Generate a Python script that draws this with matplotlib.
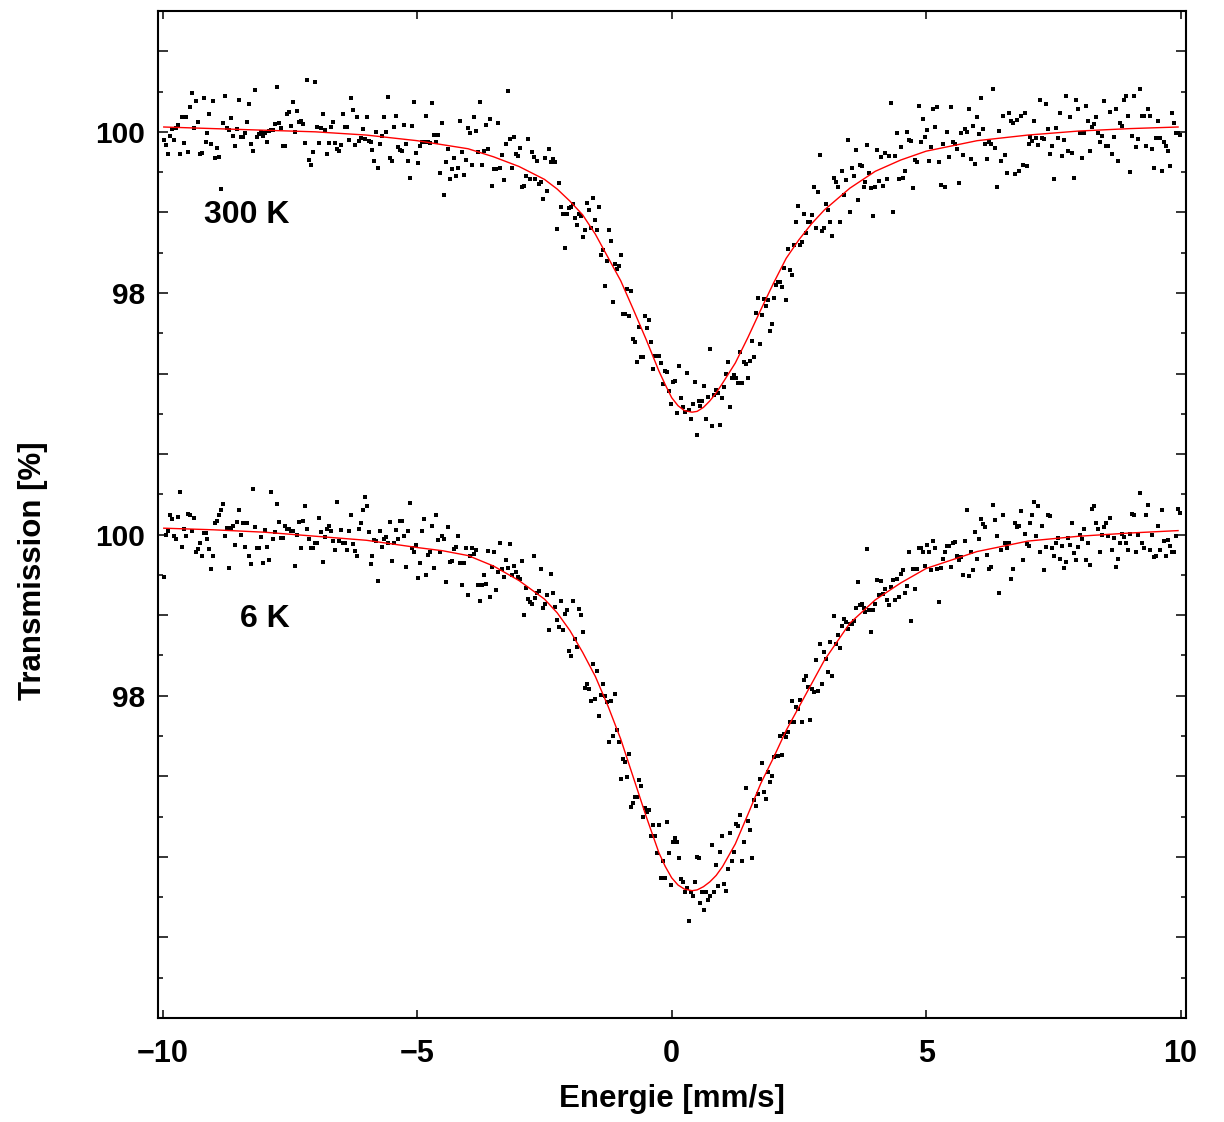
import numpy as np
import matplotlib
matplotlib.use("Agg")
import matplotlib.pyplot as plt
from matplotlib.ticker import MultipleLocator

# velocity range of the channels (mm/s)
v_first, v_last = -9.98, 9.98

# measured transmission (%), 300 K
t_300 = [
    99.90, 99.84, 99.72, 99.95, 100.04, 99.90, 100.05, 100.08, 99.72, 100.19, 99.86, 100.19, 99.75, 100.31,
    100.48, 100.05, 100.38, 100.12, 99.73, 99.74, 100.42, 99.87, 99.98, 100.22, 99.85, 100.38, 99.67, 99.80,
    99.69, 99.29, 100.11, 100.45, 100.05, 100.02, 100.17, 99.95, 99.82, 100.03, 100.40, 99.94, 99.93, 99.98,
    100.12, 100.35, 99.85, 99.76, 100.52, 99.94, 99.97, 100.00, 99.95, 99.98, 99.87, 100.01, 100.02, 100.02,
    100.10, 100.56, 100.11, 100.05, 99.82, 99.83,
    100.22, 100.25, 100.07, 100.37, 100.00, 100.26, 100.12, 100.14, 100.10, 99.86, 100.64, 99.65, 99.59, 99.75,
    100.62, 100.06, 99.86, 100.05, 100.22, 100.02, 99.73, 99.86, 100.06, 100.12, 99.86, 99.79, 99.76, 99.84,
    100.22, 100.06, 100.06, 99.90, 100.42, 100.27, 99.84, 100.18, 99.89, 99.92, 100.03, 99.91, 100.18, 99.89,
    99.88, 99.77, 99.64, 100.00, 99.55, 99.85, 99.95, 100.18, 100.00, 100.43, 99.67, 99.64, 100.06, 100.20,
    99.81, 99.78, 99.76, 100.09, 99.85, 99.64, 99.43, 100.07, 100.37, 99.74, 99.61,
    99.82, 99.88, 99.88, 100.20, 99.88, 99.86, 100.36, 99.96, 99.88, 99.96, 99.49, 100.11, 99.22, 99.62,
    99.79, 99.41, 99.54, 99.68, 99.45, 99.55, 100.14, 99.75, 99.46, 99.65, 100.05, 99.99, 99.59, 100.19,
    100.01, 99.75, 100.37, 99.59, 99.76, 100.08, 99.79, 100.16, 99.33, 99.54, 99.54, 100.11, 99.55, 99.71,
    99.40, 99.85, 100.51, 99.91, 99.55, 99.94, 99.73, 99.70, 99.80, 99.31, 99.33, 99.45, 99.91, 99.41,
    99.75, 99.69, 99.41, 99.64, 99.35, 99.38, 99.17, 99.68, 99.27, 99.79, 99.62, 99.66, 99.63, 98.79,
    99.37, 99.07, 98.98, 98.56, 98.98, 99.06, 99.07, 99.10, 98.93, 98.84, 98.98, 98.96, 98.70, 98.78,
    99.12, 99.03, 98.81, 99.18, 98.91, 98.78, 99.07, 98.47, 98.53, 98.09, 98.40, 98.78, 98.64, 97.89,
    98.36, 98.30, 98.33, 98.47, 97.74, 97.74, 98.05, 97.72, 98.03, 97.43, 97.39, 97.14, 97.58, 97.21,
    97.20, 97.72, 97.57, 97.66, 97.39, 97.06, 97.22, 97.22, 97.22, 97.13, 96.87, 97.03, 97.02, 96.78,
    96.62, 96.89, 96.91, 96.51, 97.09,
    96.70, 96.58, 96.52, 97.01, 96.55, 96.43, 96.62, 96.89, 96.24, 96.66, 96.60, 96.66, 96.84, 96.44,
    96.71, 97.30, 96.35, 96.73, 96.79, 96.76, 96.36, 96.70, 96.83, 97.00, 97.14, 96.59, 96.95, 96.98,
    96.95, 96.88, 97.27, 96.88, 97.14, 97.12, 96.95, 97.16, 97.40, 97.21, 97.75, 97.94, 97.37, 97.73,
    97.92, 97.84, 97.91, 97.53, 97.61, 97.94, 98.10, 98.14, 98.14, 98.07, 98.31, 97.91, 98.55, 98.28,
    98.22, 98.59, 98.88, 99.08, 98.60, 98.63, 98.98, 98.75, 98.88, 98.88, 98.97, 99.31, 98.81, 99.25,
    99.71, 98.77, 98.81, 99.10, 99.03, 98.88, 98.71, 99.43, 99.38, 99.32, 98.88, 99.52, 99.21, 99.40,
    99.90, 99.00, 99.55, 99.45, 99.77, 99.15, 99.59, 99.57, 99.32, 99.38, 99.84, 99.49, 99.30, 98.96,
    99.31, 99.77, 99.39, 99.69, 99.33, 99.74, 99.42, 99.70, 100.36, 99.00, 99.70, 99.99, 99.41, 99.81,
    99.43, 99.51, 100.00, 99.90, 99.89, 99.30, 99.65, 99.62, 100.32, 99.88, 100.16, 99.94, 100.02, 99.64,
    99.81, 100.28, 100.06, 100.31, 99.63,
    99.34, 99.85, 99.31, 100.00, 99.69, 100.31, 99.88, 99.85, 99.79, 99.37, 99.99, 99.71, 100.03, 100.00,
    100.28, 99.66, 100.07, 99.60, 100.19, 99.97, 100.42, 100.03, 99.85, 99.66, 99.88, 99.85, 100.53, 99.80,
    99.32, 100.01, 99.64, 100.20, 99.71, 99.49, 100.24, 100.14, 100.11, 99.48, 100.15, 99.52, 100.20, 99.59,
    100.24, 99.57, 99.85, 99.94, 99.89, 100.13, 99.92, 99.84, 100.40, 99.92, 99.91, 100.35, 100.03, 99.72,
    99.82, 99.42, 100.05, 99.92, 100.24, 99.70, 99.90, 100.45, 99.76, 100.19, 99.74, 99.43, 100.39, 100.28,
    99.99, 99.68, 99.99, 100.32, 100.14, 99.76, 100.06, 100.10, 100.18, 99.99, 99.88, 99.95, 100.38, 99.83,
    99.83, 100.25, 99.73, 99.94, 100.28, 99.64, 100.11, 100.07, 100.39, 100.45, 100.20, 99.50, 99.95, 100.45,
    99.81, 99.91, 100.53, 100.20, 100.20, 99.83, 100.28, 100.20, 99.79, 99.55, 99.92, 100.13, 99.92, 99.51,
    99.88, 99.82, 99.76, 99.57, 100.23, 100.11, 99.98, 99.99, 99.96,
]

# measured transmission (%), 6 K
t_6 = [
    99.47, 100.00, 100.05, 100.24, 100.19, 99.98, 99.94, 100.22, 100.53, 99.85, 100.07, 99.98, 100.26, 100.24,
    100.04, 100.21, 99.78, 99.82, 99.90, 99.74, 100.02, 100.02, 99.94, 99.82, 99.57, 99.73, 100.14, 100.17,
    100.24, 100.31, 100.38, 99.98, 100.08, 99.59, 100.08, 100.11, 99.87, 100.16, 100.30, 100.00, 100.15, 99.85,
    100.15, 99.74, 99.63, 100.57, 100.10, 99.84, 99.83, 99.97, 99.65, 100.06, 99.85, 99.69, 100.53, 99.94,
    100.03, 100.38, 100.16, 99.96, 99.96, 100.11, 100.07, 100.07, 100.04, 100.04, 99.61, 99.99, 100.16, 99.84,
    100.17, 100.35, 100.07, 99.94, 99.83, 99.83, 99.90, 99.90, 100.21, 100.03, 99.66, 99.97, 100.07, 100.11,
    100.05, 99.92, 99.81, 100.41, 99.92, 100.06, 99.90, 99.90, 99.81, 100.04, 100.24, 99.88, 99.80, 99.74,
    100.07, 100.14, 100.31, 100.47, 100.35, 100.03, 99.64, 99.73, 99.93, 99.92, 99.43, 100.05, 99.85, 99.94,
    99.97, 99.89, 100.16, 99.67, 99.90, 100.06, 99.95, 100.17, 100.17, 99.98, 99.60, 100.04, 100.39, 99.84,
    99.78, 99.87, 99.46,
    99.65, 100.04, 100.20, 99.50, 99.75, 99.79, 100.11, 99.59, 100.24, 99.93, 99.78, 99.98, 99.94, 99.41,
    100.09, 99.66, 99.67, 99.82, 99.85, 99.98, 99.65, 99.38, 99.65, 99.84, 99.25, 99.74, 99.84, 99.76,
    99.81, 99.37, 99.17, 99.37, 99.50, 99.39, 99.80, 99.23, 99.60, 99.78, 99.31, 99.53, 99.89, 99.57,
    99.48, 99.69, 99.59, 99.88, 99.50, 99.61, 99.54, 99.47, 99.45, 99.67, 99.00, 99.34, 99.20, 99.16,
    99.14, 99.74, 99.21, 99.27, 99.30, 99.57, 99.09, 99.14, 99.25, 98.81, 99.51, 99.27, 99.10, 98.94,
    98.85, 99.18, 98.81, 99.02, 99.06, 98.55, 98.49, 99.18, 98.71, 98.60, 99.08, 99.00, 98.79, 98.10,
    98.14, 98.08, 97.93, 98.40, 97.96, 98.31, 97.75, 98.01, 98.14, 98.00, 97.92, 97.42, 97.93, 97.50,
    98.02, 97.58, 97.42, 96.97, 97.21, 97.18, 96.99, 97.28, 96.62, 96.67, 96.74, 96.74, 96.95, 96.88,
    96.49, 96.61, 96.56, 96.58, 96.26, 96.40, 96.26, 96.05, 96.40, 95.74, 95.95, 95.74, 96.43, 96.05,
    95.65, 96.18, 96.23, 96.19, 95.98,
    95.73, 95.69, 95.56, 95.61, 95.21, 95.56, 95.52, 95.69, 96.00, 95.98, 95.43, 95.56, 95.34, 95.56,
    95.47, 95.52, 96.15, 95.56, 95.90, 95.64, 96.06, 96.26, 95.66, 95.58, 95.85, 96.30, 95.95, 96.06,
    96.41, 96.38, 96.52, 95.95, 96.18, 96.86, 96.44, 96.33, 95.98, 96.70, 96.63, 96.78, 96.97, 97.16,
    96.81, 96.72, 97.05, 96.93, 97.00, 97.24, 97.25, 97.25, 97.50, 97.27, 97.53, 97.49, 97.55, 97.67,
    97.93, 97.68, 97.86, 97.84, 97.95, 97.68, 98.20, 98.24, 98.11, 97.70, 98.08, 98.05, 98.45, 98.06,
    98.64, 98.15, 98.54, 98.46, 98.29, 98.67, 98.25, 98.99, 98.64, 98.76, 98.59, 98.86, 98.95, 98.91,
    98.83, 98.89, 98.89, 98.93, 99.09, 99.41, 99.13, 99.14, 99.09, 99.04, 99.82, 99.06, 98.79, 99.06,
    99.14, 99.44, 99.25, 99.43, 99.26, 99.32, 99.19, 99.13, 99.35, 99.44, 99.19, 99.45, 99.23, 99.51,
    99.56, 99.27, 99.36, 99.79, 98.93, 99.57, 99.33, 99.57, 99.83, 99.84, 99.78, 99.61, 99.87, 99.79,
    99.56, 99.92, 99.84, 99.57, 99.16,
    99.58, 99.70, 99.79, 99.86, 99.86, 99.60, 99.89, 99.91, 99.74, 99.68, 99.72, 99.50, 99.92, 100.30,
    99.49, 99.78, 99.56, 100.03, 99.70, 99.94, 100.20, 100.13, 100.10, 99.75, 99.57, 99.60, 100.37, 100.18,
    99.98, 99.27, 99.81, 100.24, 99.90, 99.83, 99.89, 99.45, 99.57, 100.14, 100.09, 100.11, 100.29, 99.69,
    100.01, 99.88, 99.86, 100.14, 100.24, 100.40, 99.98, 100.36, 99.79, 100.11, 99.56, 99.85, 100.24, 100.23,
    99.84, 99.74, 99.89, 99.96, 99.70, 99.86, 99.59, 99.66, 99.96, 99.87, 100.14, 99.77, 99.68, 99.85,
    99.99, 99.94, 100.07, 99.68, 99.90, 99.62, 100.32, 100.35, 100.14, 100.07, 99.79, 99.99, 100.10, 100.14,
    99.98, 100.21, 99.81, 99.96, 99.60, 99.70, 99.90, 100.01, 99.97, 99.90, 99.81, 100.01, 100.26, 100.24,
    99.79, 100.00, 100.52, 99.90, 99.84, 100.24, 100.37, 99.81, 100.00, 99.72, 99.73, 100.11, 99.81, 100.30,
    99.92, 99.73, 99.93, 99.86, 99.78, 99.78, 99.98, 100.32, 100.27,
]

fit_v = [-9.98, -9, -8, -7, -6, -5, -4.5, -4, -3.5, -3, -2.5, -2.25, -2, -1.75, -1.5, -1.25, -1, -0.75,
         -0.5, -0.25, -0.125, 0, 0.125, 0.25, 0.4, 0.5, 0.625, 0.75, 0.875, 1, 1.25, 1.5, 1.75, 2, 2.25,
         2.5, 2.75, 3, 3.5, 4, 4.5, 5, 6, 7, 8, 9, 9.95]
fit_300 = [100.06, 100.04, 100.02, 100.00, 99.96, 99.89, 99.84, 99.79, 99.69, 99.57, 99.41, 99.29, 99.14,
           98.97, 98.73, 98.44, 98.15, 97.79, 97.42, 97.03, 96.86, 96.70, 96.60, 96.54, 96.52, 96.53, 96.58,
           96.66, 96.76, 96.88, 97.13, 97.45, 97.79, 98.12, 98.43, 98.66, 98.86, 99.03, 99.30, 99.51, 99.65,
           99.76, 99.89, 99.96, 100.01, 100.04, 100.06]
fit_6 = [100.08, 100.06, 100.03, 99.98, 99.93, 99.84, 99.80, 99.74, 99.61, 99.43, 99.20, 99.03, 98.81,
         98.54, 98.24, 97.87, 97.46, 96.98, 96.50, 96.05, 95.88, 95.74, 95.65, 95.60, 95.58, 95.59, 95.63,
         95.69, 95.77, 95.88, 96.16, 96.53, 96.91, 97.23, 97.57, 97.86, 98.15, 98.44, 98.90, 99.19, 99.40,
         99.58, 99.79, 99.92, 99.98, 100.02, 100.05]

labelled = [98, 100]
shift = 5  # 300 K spectrum is drawn shifted up

plt.rcParams['font.family'] = ['Liberation Sans', 'DejaVu Sans']
plt.rcParams['font.weight'] = 'bold'

fig = plt.figure(figsize=(12.24, 11.22), dpi=100)
ax = fig.add_axes([0.1288, 0.0927, 0.8399, 0.8975])

v300 = np.linspace(v_first, v_last, len(t_300))
v6 = np.linspace(v_first, v_last, len(t_6))

ax.plot(v300, np.array(t_300) + shift, 's', ms=3.2, mew=0, color='k')
ax.plot(v6, t_6, 's', ms=3.2, mew=0, color='k')
ax.plot(fit_v, np.array(fit_300) + shift, '-', color='red', lw=1.0)
ax.plot(fit_v, fit_6, '-', color='red', lw=1.0)

ax.text(-7.5, 103.865, '300 K', ha='right', va='baseline', fontsize=23, fontweight='bold')
ax.text(-7.5, 98.85, '6 K', ha='right', va='baseline', fontsize=23, fontweight='bold')

ax.set_xlim(-10.1, 10.1)
ax.set_ylim(94.0, 106.5)

yt = np.arange(94, 107)
ylab = []
for y in yt:
    if y in labelled:
        ylab.append(str(y))
    elif y - shift in labelled:
        ylab.append(str(y - shift))
    else:
        ylab.append('')
ax.set_yticks(yt)
ax.set_yticklabels(ylab)
ax.yaxis.set_minor_locator(MultipleLocator(0.5))

ax.set_xticks([-10, -5, 0, 5, 10])

ax.tick_params(axis='both', which='both', direction='in', top=True, right=True, width=1.1)
ax.tick_params(axis='y', which='major', length=7.2, pad=9, labelsize=21.5)
ax.tick_params(axis='y', which='minor', length=3.6)
ax.tick_params(axis='x', which='major', length=6, pad=15, labelsize=22)
for s in ax.spines.values():
    s.set_linewidth(1.5)

ax.set_xlabel('Energie [mm/s]', fontsize=22.5, fontweight='bold')
ax.set_ylabel('Transmission [%]', fontsize=22.5, fontweight='bold')
ax.xaxis.set_label_coords(0.5, -0.066)
ax.yaxis.set_label_coords(-0.107, 0.444)

fig.savefig('out.png', dpi=100)
